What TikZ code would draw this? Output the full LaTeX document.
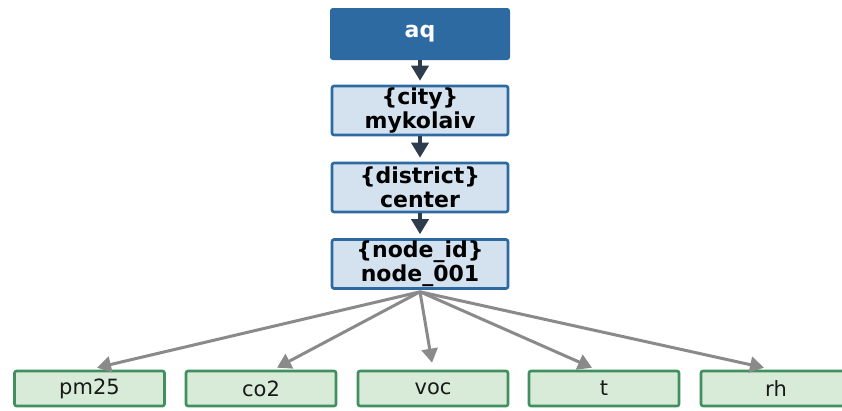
\documentclass[tikz,border=0pt]{standalone}
\usepackage{fontspec}
\setmainfont{DejaVu Sans}
\usetikzlibrary{arrows.meta}
\definecolor{headblue}{HTML}{2D6AA2}
\definecolor{levelfill}{HTML}{D4E2EF}
\definecolor{leaffill}{HTML}{D8EBD8}
\definecolor{leafedge}{HTML}{408F5E}
\definecolor{chainarrow}{HTML}{2E3D4D}
\definecolor{leafarrow}{HTML}{8A8A8A}
\tikzset{
  rootbox/.style={draw=headblue, fill=headblue, line width=2pt, rounded corners=2pt,
    minimum width=178pt, minimum height=50pt, inner sep=0pt, text=white,
    font=\fontsize{22}{25}\selectfont\bfseries},
  levelbox/.style={draw=headblue, fill=levelfill, line width=2.6pt, rounded corners=2pt,
    minimum width=176pt, minimum height=49pt, inner sep=0pt, align=center, text=black,
    font=\fontsize{22}{24}\selectfont\bfseries},
  leafbox/.style={draw=leafedge, fill=leaffill, line width=2.6pt, rounded corners=2pt,
    minimum width=150pt, minimum height=35pt, inner sep=0pt, text=black!90,
    font=\fontsize{21}{24}\selectfont},
  chain/.style={draw=chainarrow, line width=3.5pt, -{Triangle[length=15pt,width=17pt]}},
  fan/.style={draw=leafarrow, line width=3pt, -{Triangle[length=14pt,width=16pt]}},
}
\begin{document}
\begin{tikzpicture}[x=1pt,y=-1pt]
  \useasboundingbox (0,0) rectangle (842,410);
  \begin{scope}
    \clip (0,0) rectangle (842,410);
    % hierarchy chain
    \node[rootbox]  (aq)   at (420,34)    {aq};
    \node[levelbox] (city) at (420,110.5) {\{city\}\\mykolaiv};
    \node[levelbox] (dist) at (420,187.5) {\{district\}\\center};
    \node[levelbox] (nid)  at (420,264)   {\{node\_id\}\\node\_001};
    % measured quantities
    \node[leafbox] (pm25) at (89.5,388.5) {pm25};
    \node[leafbox] (co2)  at (261,388.5)  {co2};
    \node[leafbox] (voc)  at (433,388.5)  {voc};
    \node[leafbox] (t)    at (604,388.5)  {t};
    \node[leafbox] (rh)   at (776,388.5)  {rh};
    % connectors
    \draw[chain] (aq.south)   -- ([yshift=4pt]city.north);
    \draw[chain] (city.south) -- ([yshift=4pt]dist.north);
    \draw[chain] (dist.south) -- ([yshift=4pt]nid.north);
    \draw[fan] ([yshift=-2pt]nid.south) -- ([xshift=7.5pt,yshift=2pt]pm25.north);
    \draw[fan] ([yshift=-2pt]nid.south) -- ([xshift=16pt,yshift=2pt]co2.north);
    \draw[fan] ([yshift=-2pt]nid.south) -- ([xshift=-1pt,yshift=7pt]voc.north);
    \draw[fan] ([yshift=-2pt]nid.south) -- ([xshift=-12pt,yshift=2pt]t.north);
    \draw[fan] ([yshift=-2pt]nid.south) -- ([xshift=-12pt,yshift=2pt]rh.north);
  \end{scope}
\end{tikzpicture}
\end{document}
